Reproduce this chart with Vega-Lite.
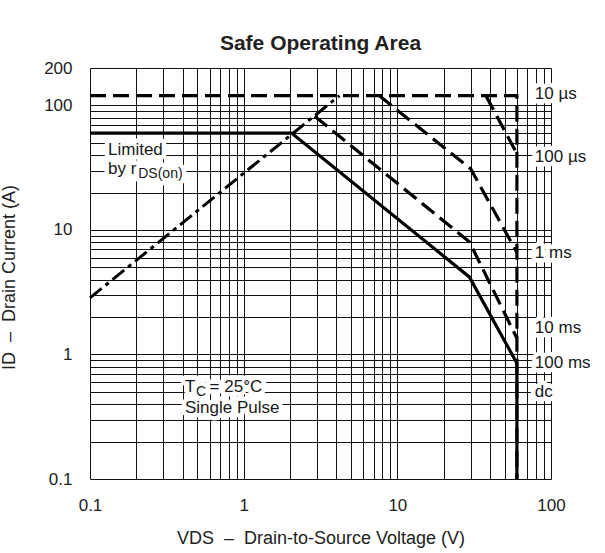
{
  "$schema": "https://vega.github.io/schema/vega-lite/v6.json",
  "width": 461,
  "height": 411,
  "autosize": {"type": "none"},
  "padding": {"left": 90, "top": 68, "right": 54, "bottom": 74},
  "background": "white",
  "title": {"text": "Safe Operating Area", "fontSize": 21, "fontWeight": "bold", "font": "Liberation Sans", "color": "#222222", "anchor": "middle", "frame": "group", "offset": 5},
  "config": {
    "view": {"stroke": null},
    "axis": {
      "grid": true, "gridColor": "#111111", "gridWidth": 1, "gridOpacity": 1,
      "domain": false, "ticks": false, "tickSize": 0,
      "labelFont": "Liberation Sans", "labelFontSize": 17, "labelColor": "#222222",
      "labelFlush": false, "labelOverlap": false, "labelBound": false,
      "titleFont": "Liberation Sans", "titleFontSize": 18, "titleFontWeight": "normal", "titleColor": "#222222"
    }
  },
  "datasets": {
    "curves": [
      {"curve": "rDS(on)", "k": 0, "v": 0.1, "i": 2.85},
      {"curve": "rDS(on)", "k": 1, "v": 4.2, "i": 120},
      {"curve": "10 µs", "k": 0, "v": 0.1, "i": 120},
      {"curve": "10 µs", "k": 1, "v": 60, "i": 120},
      {"curve": "10 µs", "k": 2, "v": 60, "i": 0.1},
      {"curve": "100 µs", "k": 0, "v": 37.7, "i": 120},
      {"curve": "100 µs", "k": 1, "v": 60, "i": 41},
      {"curve": "1 ms", "k": 0, "v": 7.6, "i": 120},
      {"curve": "1 ms", "k": 1, "v": 30, "i": 31},
      {"curve": "1 ms", "k": 2, "v": 60, "i": 6.6},
      {"curve": "10 ms", "k": 0, "v": 2.9, "i": 82},
      {"curve": "10 ms", "k": 1, "v": 29.5, "i": 8},
      {"curve": "10 ms", "k": 2, "v": 60, "i": 1.35},
      {"curve": "dc", "k": 0, "v": 0.1, "i": 60},
      {"curve": "dc", "k": 1, "v": 2.05, "i": 60},
      {"curve": "dc", "k": 2, "v": 29.4, "i": 4.2},
      {"curve": "dc", "k": 3, "v": 60, "i": 0.85},
      {"curve": "dc", "k": 4, "v": 60, "i": 0.1}
    ],
    "labels": [
      {"text": "Limited", "v": 0.131, "i": 40, "kind": "main"},
      {"text": "by r", "v": 0.131, "i": 28.2, "kind": "main"},
      {"text": "T", "v": 0.415, "i": 0.502, "kind": "main"},
      {"text": "= 25°C", "v": 0.6, "i": 0.502, "kind": "main"},
      {"text": "Single Pulse", "v": 0.415, "i": 0.341, "kind": "main"},
      {"text": "10 µs", "v": 78.5, "i": 112, "kind": "main"},
      {"text": "100 µs", "v": 78.5, "i": 35.4, "kind": "main"},
      {"text": "1 ms", "v": 78.5, "i": 5.93, "kind": "main"},
      {"text": "10 ms", "v": 78.5, "i": 1.48, "kind": "main"},
      {"text": "100 ms", "v": 78.5, "i": 0.774, "kind": "main"},
      {"text": "dc", "v": 78.5, "i": 0.453, "kind": "main"},
      {"text": "DS(on)", "v": 0.206, "i": 26.0, "kind": "sub"},
      {"text": "C", "v": 0.49, "i": 0.464, "kind": "sub"}
    ]
  },
  "encoding": {
    "x": {
      "field": "v", "type": "quantitative",
      "scale": {"type": "log", "domain": [0.1, 100], "nice": false},
      "axis": {
        "values": [0.1, 0.2, 0.3, 0.4, 0.5, 0.6, 0.7, 0.8, 0.9, 1, 2, 3, 4, 5, 6, 7, 8, 9, 10, 20, 30, 40, 50, 60, 70, 80, 90, 100],
        "format": "~g",
        "labelExpr": "datum.value == 0.1 || datum.value == 1 || datum.value == 10 || datum.value == 100 ? datum.label : ''",
        "labelPadding": 18,
        "title": "VDS \u00a0–\u00a0 Drain-to-Source Voltage (V)",
        "titleY": 64, "titleBaseline": "alphabetic"
      }
    },
    "y": {
      "field": "i", "type": "quantitative",
      "scale": {"type": "log", "domain": [0.1, 200], "nice": false},
      "axis": {
        "values": [0.1, 0.2, 0.3, 0.4, 0.5, 0.6, 0.7, 0.8, 0.9, 1, 2, 3, 4, 5, 6, 7, 8, 9, 10, 20, 30, 40, 50, 60, 70, 80, 90, 100, 200],
        "format": "~g",
        "labelExpr": "datum.value == 0.1 || datum.value == 1 || datum.value == 10 || datum.value == 100 || datum.value == 200 ? datum.label : ''",
        "labelPadding": 18,
        "title": "ID \u00a0–\u00a0 Drain Current (A)",
        "titleX": -76, "titleY": 209, "titleBaseline": "alphabetic"
      }
    }
  },
  "layer": [
    {
      "data": {"name": "curves"},
      "transform": [{"filter": "datum.curve == 'rDS(on)'"}],
      "mark": {"type": "line", "color": "#000000", "strokeWidth": 3, "strokeDash": [15, 5, 4, 5]},
      "encoding": {"detail": {"field": "curve"}, "order": {"field": "k", "type": "quantitative"}}
    },
    {
      "data": {"name": "curves"},
      "transform": [{"filter": "indexof(['10 µs', '100 µs', '1 ms', '10 ms'], datum.curve) >= 0"}],
      "mark": {"type": "line", "color": "#000000", "strokeWidth": 3.2, "strokeDash": [16, 7]},
      "encoding": {"detail": {"field": "curve"}, "order": {"field": "k", "type": "quantitative"}}
    },
    {
      "data": {"name": "curves"},
      "transform": [{"filter": "datum.curve == 'dc'"}],
      "mark": {"type": "line", "color": "#000000", "strokeWidth": 3.2},
      "encoding": {"detail": {"field": "curve"}, "order": {"field": "k", "type": "quantitative"}}
    },
    {
      "data": {"name": "labels"},
      "transform": [{"filter": "datum.kind == 'main'"}],
      "mark": {"type": "text", "align": "left", "baseline": "alphabetic", "font": "Liberation Sans", "fontSize": 17, "fill": "white", "stroke": "white", "strokeWidth": 9, "strokeJoin": "round"},
      "encoding": {"text": {"field": "text"}}
    },
    {
      "data": {"name": "labels"},
      "transform": [{"filter": "datum.kind == 'sub'"}],
      "mark": {"type": "text", "align": "left", "baseline": "alphabetic", "font": "Liberation Sans", "fontSize": 14, "fill": "white", "stroke": "white", "strokeWidth": 9, "strokeJoin": "round"},
      "encoding": {"text": {"field": "text"}}
    },
    {
      "data": {"name": "labels"},
      "transform": [{"filter": "datum.kind == 'main'"}],
      "mark": {"type": "text", "align": "left", "baseline": "alphabetic", "font": "Liberation Sans", "fontSize": 17, "color": "#1a1a1a"},
      "encoding": {"text": {"field": "text"}}
    },
    {
      "data": {"name": "labels"},
      "transform": [{"filter": "datum.kind == 'sub'"}],
      "mark": {"type": "text", "align": "left", "baseline": "alphabetic", "font": "Liberation Sans", "fontSize": 14, "color": "#1a1a1a"},
      "encoding": {"text": {"field": "text"}}
    }
  ]
}
